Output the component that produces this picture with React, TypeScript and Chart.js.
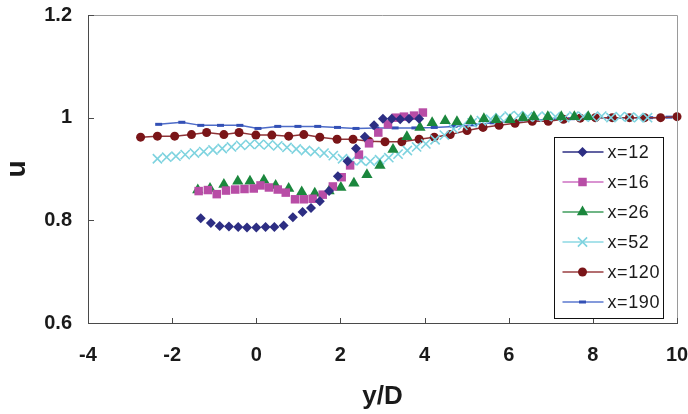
import React, { useEffect, useRef } from 'react';
import { Chart, registerables } from 'chart.js';
import { drawPoint } from 'chart.js/helpers';

Chart.register(...registerables);

const FONT = '"Liberation Sans", Arial, sans-serif';
const TEXT = '#1a1a1a';
const AXIS = '#4a4a4a';
const FRAME = '#9a9a9a';

// axis ticks
const xTicks = [-4, -2, 0, 2, 4, 6, 8, 10];
const yTicks = [0.6, 0.8, 1, 1.2];
const yTickLabels = ['0.6', '0.8', '1', '1.2'];

const seriesLabels = ['x=12', 'x=16', 'x=26', 'x=52', 'x=120', 'x=190'];

// x=12
const x12X = [-1.32, -1.08, -0.87, -0.65, -0.43, -0.22, 0.0, 0.22, 0.43, 0.65, 0.87, 1.1, 1.3, 1.51, 1.73, 1.94, 2.17, 2.37, 2.58, 2.8, 3.01, 3.22, 3.42, 3.63, 3.87];
const x12Y = [0.804, 0.795, 0.789, 0.788, 0.787, 0.786, 0.786, 0.787, 0.787, 0.79, 0.806, 0.816, 0.824, 0.837, 0.857, 0.886, 0.915, 0.94, 0.963, 0.985, 0.998, 0.998, 0.997, 0.998, 0.998];

// x=16
const x16X = [-1.37, -1.15, -0.94, -0.72, -0.5, -0.28, -0.06, 0.1, 0.3, 0.51, 0.7, 0.92, 1.13, 1.34, 1.58, 1.82, 2.03, 2.23, 2.44, 2.68, 2.9, 3.13, 3.32, 3.51, 3.75, 3.96];
const x16Y = [0.857, 0.859, 0.851, 0.858, 0.86, 0.861, 0.862, 0.868, 0.864, 0.86, 0.854, 0.841, 0.841, 0.842, 0.85, 0.866, 0.884, 0.907, 0.928, 0.95, 0.971, 0.987, 1.0, 1.002, 1.004, 1.01];

// x=26
const x26X = [-1.39, -1.1, -0.77, -0.44, -0.15, 0.18, 0.46, 0.77, 1.08, 1.39, 1.73, 2.01, 2.32, 2.63, 2.94, 3.25, 3.58, 3.89, 4.18, 4.49, 4.77, 5.1, 5.41, 5.7, 6.03, 6.34, 6.6, 6.93, 7.25, 7.56, 7.89];
const x26Y = [0.859, 0.862, 0.87, 0.876, 0.876, 0.878, 0.868, 0.862, 0.855, 0.853, 0.857, 0.864, 0.872, 0.889, 0.907, 0.938, 0.963, 0.981, 0.99, 0.994, 0.992, 0.994, 0.998, 0.996, 0.996, 1.0, 1.002, 1.002, 1.002, 1.002, 1.002];

// x=52
const x52X = [-2.35, -2.13, -1.91, -1.69, -1.47, -1.25, -1.03, -0.81, -0.59, -0.37, -0.15, 0.07, 0.29, 0.51, 0.73, 0.95, 1.17, 1.39, 1.61, 1.83, 2.05, 2.27, 2.49, 2.71, 2.93, 3.15, 3.37, 3.59, 3.81, 4.03, 4.25, 4.47, 4.69, 4.91, 5.13, 5.35, 5.57, 5.79, 6.01, 6.23, 6.45, 6.67, 6.89, 7.11, 7.33, 7.55, 7.77, 7.99, 8.21, 8.43, 8.65, 8.87, 9.09, 9.3];
const x52Y = [0.92, 0.923, 0.925, 0.928, 0.931, 0.934, 0.937, 0.94, 0.943, 0.946, 0.948, 0.948, 0.947, 0.945, 0.942, 0.939, 0.936, 0.934, 0.931, 0.926, 0.92, 0.917, 0.916, 0.915, 0.918, 0.922, 0.929, 0.936, 0.943, 0.949, 0.957, 0.966, 0.978, 0.985, 0.99, 0.994, 0.997, 1.0, 1.003, 1.004, 1.002, 1.001, 1.003, 1.002, 1.0, 1.003, 1.002, 1.001, 1.003, 1.0, 1.002, 1.001, 1.0, 1.0];

// x=120
const x120X = [-2.75, -2.35, -1.94, -1.54, -1.18, -0.77, -0.41, -0.01, 0.37, 0.77, 1.13, 1.51, 1.92, 2.3, 2.68, 3.06, 3.46, 3.87, 4.23, 4.61, 5.01, 5.39, 5.77, 6.15, 6.56, 6.94, 7.3, 7.7, 8.06, 8.46, 8.87, 9.23, 9.61, 10.0];
const x120Y = [0.962, 0.964, 0.964, 0.967, 0.971, 0.967, 0.971, 0.966, 0.966, 0.964, 0.967, 0.962, 0.958, 0.958, 0.954, 0.953, 0.953, 0.958, 0.962, 0.967, 0.975, 0.981, 0.985, 0.989, 0.993, 0.993, 0.997, 0.999, 1.0, 1.0, 1.0, 1.0, 1.0, 1.002];

// x=190
const x190X = [-2.32, -1.77, -1.32, -0.85, -0.39, 0.04, 0.51, 0.99, 1.46, 1.93, 2.37, 2.84, 3.3, 3.77, 4.23, 4.7, 5.16, 5.63, 6.09, 6.56, 7.02, 7.49, 7.95, 8.42, 8.88, 9.35, 9.81];
const x190Y = [0.987, 0.991, 0.985, 0.985, 0.985, 0.979, 0.983, 0.983, 0.983, 0.981, 0.979, 0.98, 0.98, 0.98, 0.981, 0.983, 0.986, 0.99, 0.993, 0.995, 0.997, 0.998, 1.0, 1.0, 1.0, 1.0, 1.001];

const toPoints = (xs: number[], ys: number[]) => xs.map((x, i) => ({ x, y: ys[i] }));

const framePlugin = {
  id: 'frameAndLegend',
  afterDraw(chart: any) {
    const { ctx, chartArea } = chart;
    const xs = chart.scales.x;
    const ys = chart.scales.y;
    ctx.save();
    // top and right frame
    ctx.strokeStyle = FRAME;
    ctx.lineWidth = 1;
    ctx.beginPath();
    ctx.moveTo(chartArea.left, chartArea.top + 0.5);
    ctx.lineTo(chartArea.right + 0.5, chartArea.top + 0.5);
    ctx.lineTo(chartArea.right + 0.5, chartArea.bottom);
    ctx.stroke();
    // inward ticks
    ctx.strokeStyle = AXIS;
    ctx.beginPath();
    xTicks.slice(1).forEach((v) => {
      const px = Math.round(xs.getPixelForValue(v)) + 0.5;
      ctx.moveTo(px, chartArea.bottom);
      ctx.lineTo(px, chartArea.bottom - 5);
    });
    yTicks.slice(1).forEach((v) => {
      const py = Math.round(ys.getPixelForValue(v)) + 0.5;
      ctx.moveTo(chartArea.left, py);
      ctx.lineTo(chartArea.left + 6, py);
    });
    ctx.stroke();

    // legend box
    const W = 109;
    const H = 181;
    const L = Math.round(chartArea.right - 14) - W + 0.5;
    const T = Math.round(chartArea.bottom - 5) - H + 0.5;
    ctx.fillStyle = '#ffffff';
    ctx.fillRect(L, T, W, H);
    ctx.strokeStyle = '#111111';
    ctx.lineWidth = 1;
    ctx.strokeRect(L, T, W, H);
    chart.data.datasets.forEach((ds: any, i: number) => {
      const cy = T + 14.5 + i * 30;
      ctx.strokeStyle = ds.legendLine;
      ctx.lineWidth = 1.5;
      ctx.beginPath();
      ctx.moveTo(L + 8, cy);
      ctx.lineTo(L + 49, cy);
      ctx.stroke();
      ctx.fillStyle = ds.backgroundColor;
      ctx.strokeStyle = ds.pointBorderColor || ds.borderColor;
      ctx.lineWidth = ds.pointBorderWidth || 0;
      drawPoint(ctx, {
        pointStyle: ds.pointStyle,
        radius: ds.pointRadius,
        rotation: 0,
        borderWidth: ds.pointBorderWidth || 0,
      } as any, L + 28, cy);
      ctx.fillStyle = TEXT;
      ctx.font = '18px ' + FONT;
      (ctx as any).letterSpacing = '0.6px';
      ctx.textBaseline = 'middle';
      ctx.textAlign = 'left';
      ctx.fillText(ds.label, L + 53, cy + 1);
      (ctx as any).letterSpacing = '0px';
    });
    ctx.restore();
  },
};

export default function App() {
  const ref = useRef<HTMLCanvasElement | null>(null);
  useEffect(() => {
    if (!ref.current) return;
    const chart = new Chart(ref.current, {
      type: 'scatter',
      data: {
        datasets: [
          {
            label: seriesLabels[0],
            data: toPoints(x12X, x12Y),
            pointStyle: 'rectRot',
            pointRadius: 5,
            backgroundColor: '#2D2E83',
            borderColor: '#2D2E83',
            pointBorderWidth: 0,
            showLine: false,
            legendLine: '#2D2E83',
          } as any,
          {
            label: seriesLabels[1],
            data: toPoints(x16X, x16Y),
            pointStyle: 'rect',
            pointRadius: 6,
            backgroundColor: '#B84DA6',
            borderColor: '#B84DA6',
            pointBorderWidth: 0,
            showLine: false,
            legendLine: '#CC6FC2',
          } as any,
          {
            label: seriesLabels[2],
            data: toPoints(x26X, x26Y),
            pointStyle: 'triangle',
            pointRadius: 6.5,
            backgroundColor: '#1B873D',
            borderColor: '#1B873D',
            pointBorderWidth: 0,
            showLine: false,
            legendLine: '#3F9D5C',
          } as any,
          {
            label: seriesLabels[3],
            data: toPoints(x52X, x52Y),
            pointStyle: 'crossRot',
            pointRadius: 6.5,
            backgroundColor: '#7ED3DF',
            borderColor: '#7ED3DF',
            pointBorderWidth: 1.6,
            showLine: false,
            legendLine: '#8CD8E3',
          } as any,
          {
            label: seriesLabels[4],
            data: toPoints(x120X, x120Y),
            pointStyle: 'circle',
            pointRadius: 4.5,
            backgroundColor: '#7A1518',
            borderColor: '#8E3236',
            pointBorderColor: '#7A1518',
            pointBorderWidth: 0,
            borderWidth: 1.5,
            showLine: true,
            legendLine: '#9A3E41',
          } as any,
          {
            label: seriesLabels[5],
            data: toPoints(x190X, x190Y),
            pointStyle: 'line',
            pointRadius: 3.5,
            backgroundColor: '#3D5EC0',
            borderColor: '#4E6CC8',
            pointBorderColor: '#3350B5',
            pointBorderWidth: 3,
            borderWidth: 1.5,
            showLine: true,
            legendLine: '#5B78CF',
          } as any,
        ],
      },
      options: {
        animation: false,
        responsive: false,
        devicePixelRatio: 1,
        clip: false as any,
        layout: { padding: { top: 15, right: 11, bottom: 0, left: 0 } },
        plugins: {
          legend: { display: false },
          tooltip: { enabled: false },
        },
        elements: { line: { tension: 0 } },
        scales: {
          x: {
            type: 'linear',
            position: 'bottom',
            min: -4,
            max: 10,
            afterBuildTicks: (s: any) => {
              s.ticks = xTicks.map((v) => ({ value: v }));
            },
            afterFit: (s: any) => {
              s.height = 91;
              s.paddingLeft = 0;
              s.paddingRight = 0;
              s.paddingTop = 0;
              s.paddingBottom = 0;
            },
            ticks: {
              font: { family: FONT, size: 20, weight: 'bold' },
              color: TEXT,
              padding: 20,
              maxRotation: 0,
              autoSkip: false,
              callback: (v: any) => String(v),
            },
            grid: { display: false, drawTicks: false },
            border: { display: true, color: AXIS, width: 1 },
            title: {
              display: true,
              text: 'y/D',
              color: TEXT,
              font: { family: FONT, size: 26, weight: 'bold' },
              padding: { top: 0, bottom: 2 },
            },
          },
          y: {
            type: 'linear',
            min: 0.6,
            max: 1.2,
            afterBuildTicks: (s: any) => {
              s.ticks = yTicks.map((v) => ({ value: v }));
            },
            afterFit: (s: any) => {
              s.width = 88;
              s.paddingLeft = 0;
              s.paddingRight = 0;
              s.paddingTop = 0;
              s.paddingBottom = 0;
            },
            ticks: {
              font: { family: FONT, size: 20, weight: 'bold' },
              color: TEXT,
              padding: 16,
              autoSkip: false,
              callback: (_v: any, i: number) => yTickLabels[i],
            },
            grid: { display: false, drawTicks: false },
            border: { display: true, color: AXIS, width: 1 },
            title: {
              display: true,
              text: 'u',
              color: TEXT,
              font: { family: FONT, size: 28, weight: 'bold' },
              padding: { top: 0, bottom: 0 },
            },
          },
        },
      },
      plugins: [framePlugin],
    });
    return () => chart.destroy();
  }, []);
  return (
    <div style={{ position: 'absolute', left: 0, top: 0, width: 688, height: 414, background: '#fff' }}>
      <canvas ref={ref} width={688} height={414} style={{ display: 'block', width: 688, height: 414 }} />
    </div>
  );
}
